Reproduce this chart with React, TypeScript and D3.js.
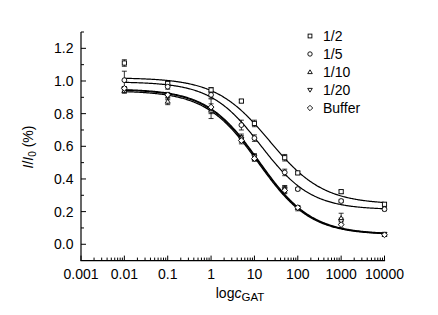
import React from "react";
import * as d3 from "d3";

const xValues = [0.01, 0.1, 1, 5, 10, 50, 100, 1000, 10000];
const seriesNames = ["1/2", "1/5", "1/10", "1/20", "Buffer"];
const symbols = ["square", "circle", "triangle", "triangleDown", "diamond"];
const half = [1.11, 0.985, 0.945, 0.877, 0.74, 0.53, 0.437, 0.322, 0.245];
const fifth = [1.005, 0.965, 0.915, 0.73, 0.65, 0.44, 0.338, 0.265, 0.215];
const tenth = [0.94, 0.875, 0.82, 0.655, 0.53, 0.34, 0.225, 0.16, 0.06];
const twentieth = [0.95, 0.905, 0.83, 0.645, 0.535, 0.335, 0.22, 0.14, 0.062];
const buffer = [0.955, 0.915, 0.84, 0.635, 0.525, 0.33, 0.225, 0.12, 0.058];
const halfErr = [0.02, 0.01, 0.015, 0.01, 0.02, 0.02, 0.01, 0.01, 0.01];
const fifthErr = [0.055, 0.015, 0.02, 0.03, 0.02, 0.02, 0.01, 0.01, 0.01];
const tenthErr = [0.015, 0.02, 0.02, 0.02, 0.02, 0.02, 0.01, 0.03, 0.01];
const twentiethErr = [0.015, 0.02, 0.06, 0.02, 0.02, 0.02, 0.015, 0.02, 0.01];
const bufferErr = [0.01, 0.015, 0.02, 0.02, 0.015, 0.02, 0.01, 0.02, 0.01];
// Hill fit parameters per series: top, bottom, logEC50, slope
const fitTop = [1.02, 0.995, 0.94, 0.948, 0.952];
const fitBottom = [0.245, 0.212, 0.058, 0.06, 0.062];
const fitLogEC50 = [1.35, 1.15, 1.09, 1.1, 1.11];
const fitSlope = [0.7, 0.75, 0.72, 0.72, 0.72];
const yTicks = [0.0, 0.2, 0.4, 0.6, 0.8, 1.0, 1.2];
const xTickLabels = ["0.001", "0.01", "0.1", "1", "10", "100", "1000", "10000"];

const values = [half, fifth, tenth, twentieth, buffer];
const errors = [halfErr, fifthErr, tenthErr, twentiethErr, bufferErr];

const W = 438;
const H = 315;
const x = d3.scaleLog().domain([0.001, 10000]).range([81, 384.5]);
const y = d3.scaleLinear().domain([-0.1, 1.3]).range([260.6, 32]);

const FONT = "'Liberation Sans', Arial, sans-serif";

function Symbol({ type, cx, cy, s }: { type: string; cx: number; cy: number; s: number }) {
  const common = { fill: "white", stroke: "#000", strokeWidth: 0.9 };
  if (type === "square") return <rect x={cx - s / 2} y={cy - s / 2} width={s} height={s} {...common} />;
  if (type === "circle") return <circle cx={cx} cy={cy} r={s / 2 + 0.3} {...common} />;
  if (type === "triangle") {
    const h = s * 0.95;
    return <path d={`M${cx},${cy - h * 0.6}L${cx + s / 2 + 0.4},${cy + h * 0.45}L${cx - s / 2 - 0.4},${cy + h * 0.45}Z`} {...common} />;
  }
  if (type === "triangleDown") {
    const h = s * 0.95;
    return <path d={`M${cx},${cy + h * 0.6}L${cx + s / 2 + 0.4},${cy - h * 0.45}L${cx - s / 2 - 0.4},${cy - h * 0.45}Z`} {...common} />;
  }
  const r = s / 2 + 0.8;
  return <path d={`M${cx},${cy - r}L${cx + r},${cy}L${cx},${cy + r}L${cx - r},${cy}Z`} {...common} />;
}

export default function App() {
  const curveXs = d3.range(-2, 4.0001, 0.02).map((l) => Math.pow(10, l));

  const curves = seriesNames.map((_, i) => {
    const f = (c: number) =>
      fitBottom[i] + (fitTop[i] - fitBottom[i]) / (1 + Math.pow(10, (Math.log10(c) - fitLogEC50[i]) * fitSlope[i]));
    return d3
      .line<number>()
      .x((d) => x(d))
      .y((d) => y(f(d)))(curveXs) as string;
  });

  const majorX = d3.range(-3, 5).map((e) => Math.pow(10, e));
  const minorX: number[] = [];
  for (let e = -3; e < 4; e++) for (let m = 2; m <= 9; m++) minorX.push(m * Math.pow(10, e));
  const minorY = [0.1, 0.3, 0.5, 0.7, 0.9, 1.1, 1.3];

  const legendY = [36, 54, 72, 90, 108];

  return (
    <svg width={W} height={H} style={{ position: "absolute", left: 0, top: 0 }} fontFamily={FONT}>
      <rect width={W} height={H} fill="white" />
      {/* axes */}
      <line x1={x(0.001)} x2={x(0.001)} y1={y(1.3)} y2={y(-0.1)} stroke="#000" strokeWidth={1.2} />
      <line x1={x(0.001) - 0.6} x2={x(10000) + 0.6} y1={y(-0.1)} y2={y(-0.1)} stroke="#000" strokeWidth={1.2} />
      {yTicks.map((t) => (
        <g key={"yt" + t}>
          <line x1={x(0.001)} x2={x(0.001) + 5} y1={y(t)} y2={y(t)} stroke="#000" strokeWidth={1} />
          <text x={73.5} y={y(t)} dy="0.36em" textAnchor="end" fontSize={14}>
            {t.toFixed(1)}
          </text>
        </g>
      ))}
      {minorY.map((t) => (
        <line key={"ym" + t} x1={x(0.001)} x2={x(0.001) + 3} y1={y(t)} y2={y(t)} stroke="#000" strokeWidth={1} />
      ))}
      {majorX.map((t, i) => (
        <g key={"xt" + t}>
          <line x1={x(t)} x2={x(t)} y1={y(-0.1)} y2={y(-0.1) - 5} stroke="#000" strokeWidth={1} />
          <text x={x(t)} y={278.5} textAnchor="middle" fontSize={14}>
            {xTickLabels[i]}
          </text>
        </g>
      ))}
      {minorX.map((t) => (
        <line key={"xm" + t} x1={x(t)} x2={x(t)} y1={y(-0.1)} y2={y(-0.1) - 3} stroke="#000" strokeWidth={1} />
      ))}
      {/* axis titles */}
      <text x={240} y={297.5} textAnchor="middle" fontSize={14}>
        log<tspan fontStyle="italic">c</tspan>
        <tspan fontSize={11.5} dy={3}>GAT</tspan>
      </text>
      <text transform="translate(33,147) rotate(-90)" textAnchor="middle" fontSize={14}>
        <tspan fontStyle="italic">I</tspan>/<tspan fontStyle="italic">I</tspan>
        <tspan fontSize={10} dy={3}>0</tspan>
        <tspan dy={-3}> (%)</tspan>
      </text>
      {/* curves */}
      {curves.map((d, i) => (
        <path key={"c" + i} d={d} fill="none" stroke="#000" strokeWidth={1.2} />
      ))}
      {/* error bars and points */}
      {values.map((vals, si) =>
        vals.map((v, j) => {
          const cx = x(xValues[j]);
          const e = errors[si][j];
          return (
            <g key={`e${si}-${j}`}>
              <line x1={cx} x2={cx} y1={y(v - e)} y2={y(v + e)} stroke="#000" strokeWidth={0.8} />
              <line x1={cx - 2.5} x2={cx + 2.5} y1={y(v + e)} y2={y(v + e)} stroke="#000" strokeWidth={0.8} />
              <line x1={cx - 2.5} x2={cx + 2.5} y1={y(v - e)} y2={y(v - e)} stroke="#000" strokeWidth={0.8} />
            </g>
          );
        })
      )}
      {values.map((vals, si) =>
        vals.map((v, j) => (
          <Symbol key={`p${si}-${j}`} type={symbols[si]} cx={x(xValues[j])} cy={y(v)} s={4.2} />
        ))
      )}
      {/* legend */}
      {seriesNames.map((n, i) => (
        <g key={"lg" + n}>
          <Symbol type={symbols[i]} cx={310} cy={legendY[i]} s={3.8} />
          <text x={323} y={legendY[i]} dy="0.36em" fontSize={14}>
            {n}
          </text>
        </g>
      ))}
    </svg>
  );
}
